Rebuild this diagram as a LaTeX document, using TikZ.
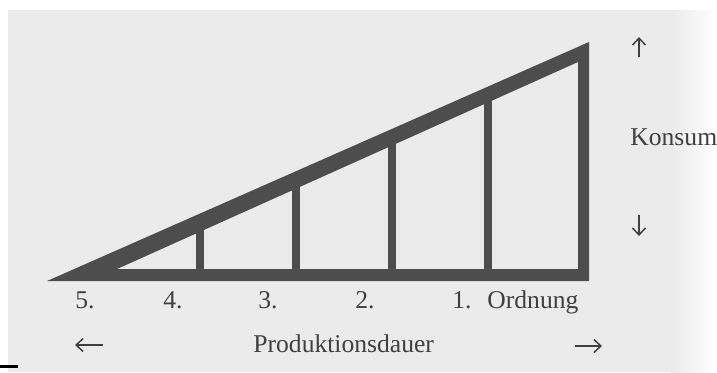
\documentclass[tikz,border=0pt]{standalone}
\usepackage{fontspec}
\setmainfont{Liberation Serif}
\usetikzlibrary{arrows.meta}
\definecolor{paper}{HTML}{EBEBEB}
\definecolor{ink}{HTML}{4D4D4D}
\definecolor{txt}{HTML}{404040}
\begin{document}
\begin{tikzpicture}[x=0.5pt,y=-0.5pt,
  lbl/.style={inner sep=0pt, anchor=base west, text=txt, font=\fontsize{12.8}{15}\selectfont},
  arr/.style={draw=txt, line width=0.75pt, -{Straight Barb[length=3.5pt,width=6.5pt]}},
  barfill/.style={fill=ink}]
\useasboundingbox (0,0) rectangle (717,372);
\clip (0,0) rectangle (717,372);
% paper
\fill[white] (0,0) rectangle (717,372);
\fill[paper] (8,10) rectangle (672,372);
\shade[left color=paper, right color=white] (671,10) rectangle (717,372);
\fill[black] (0,365) rectangle (18,367.5);
% triangle frame
\fill[ink, even odd rule] (47,281) -- (589,281) -- (589,42) -- cycle
  (117,269) -- (578,269) -- (578,62) -- cycle;
% vertical bars
\foreach \x/\t in {200/225.7, 296/182.6, 392/139.5, 488/96.4}
  \fill[barfill] (\x-3.75,272) rectangle (\x+3.75,\t);
% labels
\node[lbl] (o5) at (75,308) {5.};
\node[lbl] (o4) at (163,308) {4.};
\node[lbl] (o3) at (258,308) {3.};
\node[lbl] (o2) at (355,308) {2.};
\node[lbl] (o1) at (452,308) {1.};
\node[lbl] (ord) at (487,308) {Ordnung};
\node[lbl] (prod) at (253,352) {Produktionsdauer};
\node[lbl] (kons) at (630,145) {Konsum};
% arrows
\coordinate (la) at (103,345); \coordinate (lb) at (75,345);
\coordinate (ra) at (575,346); \coordinate (rb) at (602,346);
\coordinate (ua) at (639,57);  \coordinate (ub) at (639,37);
\coordinate (da) at (639,215); \coordinate (db) at (639,236);
\draw[arr] (la) -- (lb);
\draw[arr] (ra) -- (rb);
\draw[arr] (ua) -- (ub);
\draw[arr] (da) -- (db);
\end{tikzpicture}
\end{document}
